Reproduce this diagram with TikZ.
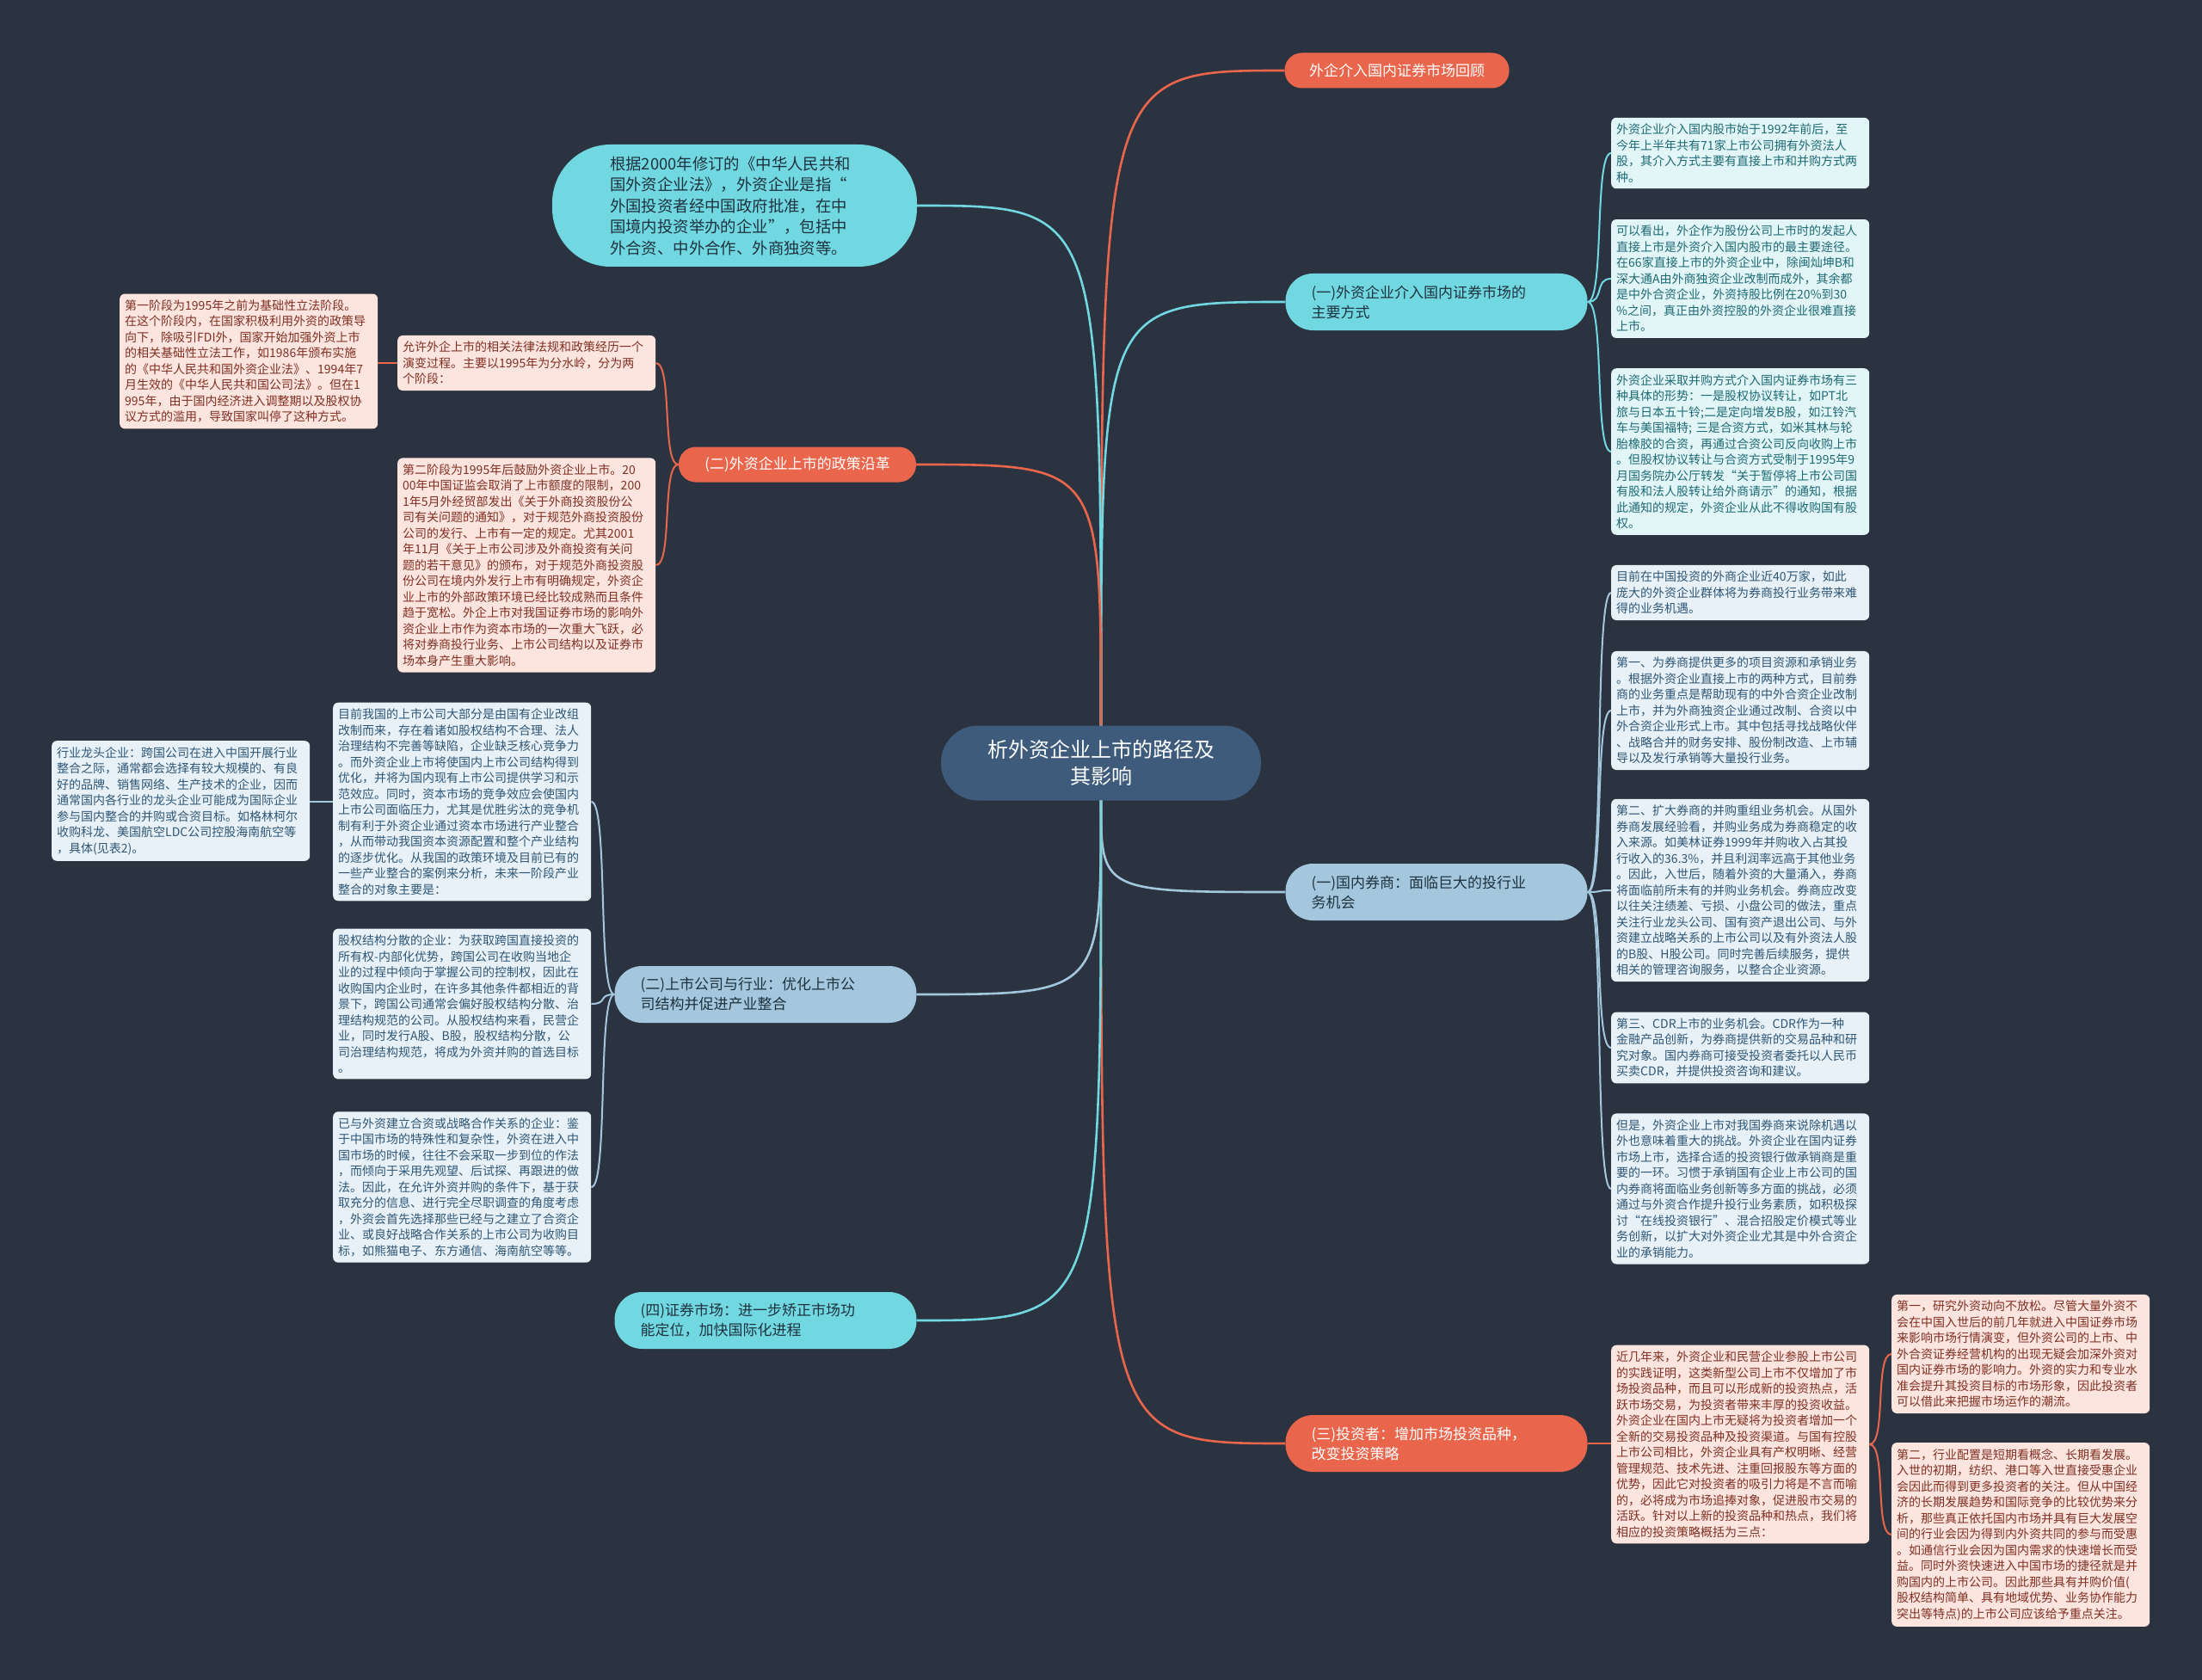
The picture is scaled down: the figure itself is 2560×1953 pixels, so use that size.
\documentclass[tikz,border=0pt]{standalone}
\usepackage{fontspec}
\setmainfont{Noto Sans CJK SC}
\definecolor{bg}{RGB}{43,51,64}
\definecolor{coral}{RGB}{233,102,76}
\definecolor{cyanm}{RGB}{113,216,226}
\definecolor{bluem}{RGB}{164,199,222}
\definecolor{centerc}{RGB}{62,91,123}
\definecolor{pinkf}{RGB}{252,228,223}
\definecolor{pinkt}{RGB}{128,48,34}
\definecolor{cyanf}{RGB}{226,246,248}
\definecolor{cyant}{RGB}{30,105,115}
\definecolor{bluef}{RGB}{232,241,247}
\definecolor{bluet}{RGB}{47,86,118}
\definecolor{darkt}{RGB}{30,50,62}
\tikzset{
  sub/.style={rounded corners=6pt, align=left, text width=288pt, inner xsep=6pt, inner ysep=7pt, font=\fontsize{14}{18.5}\selectfont, anchor=west},
  pinkbox/.style={sub, fill=pinkf, text=pinkt},
  cyanbox/.style={sub, fill=cyanf, text=cyant},
  bluebox/.style={sub, fill=bluef, text=bluet},
  pillone/.style={font=\fontsize{17}{23}\selectfont, inner sep=0pt, minimum height=41pt, rounded corners=20pt, align=center},
  pilltwo/.style={font=\fontsize{17}{23}\selectfont, inner sep=0pt, inner xsep=30pt, minimum height=66pt, rounded corners=32pt, align=left, text width=291pt},
  mainline/.style={line width=2.6pt},
  brline/.style={line width=2pt},
}
\begin{document}
\begin{tikzpicture}[x=1pt,y=-1pt]
\fill[bg] (0,0) rectangle (2560,1953);
\useasboundingbox (0,0) rectangle (2560,1953);

% ---------- main nodes ----------
\node[fill=centerc, text=white, font=\fontsize{24}{31}\selectfont, align=center, minimum width=372pt, minimum height=87pt, rounded corners=43pt, inner sep=0pt] (C) at (1280,887) {析外资企业上市的路径及\\其影响};

\node[pillone, fill=coral, text=white, minimum width=261pt] (m1) at (1624,82) {外企介入国内证券市场回顾};
\node[pilltwo, fill=cyanm, text=darkt] (m2) at (1670,351) {(一)外资企业介入国内证券市场的\\主要方式};
\node[pilltwo, fill=bluem, text=darkt] (m3) at (1670,1037) {(一)国内券商：面临巨大的投行业\\务机会};
\node[pilltwo, fill=coral, text=white] (m4) at (1670,1678) {(三)投资者：增加市场投资品种，\\改变投资策略};

\node[fill=cyanm, text=darkt, font=\fontsize{18.4}{24.5}\selectfont, align=left, text width=290pt, inner xsep=67pt, inner ysep=0pt, minimum height=142pt, rounded corners=68pt] (m5) at (854,239) {根据2000年修订的《中华人民共和\\国外资企业法》，外资企业是指“\\外国投资者经中国政府批准，在中\\国境内投资举办的企业”，包括中\\外合资、中外合作、外商独资等。};
\node[pillone, fill=coral, text=white, minimum width=276pt] (m6) at (927,540) {(二)外资企业上市的政策沿革};
\node[pilltwo, fill=bluem, text=darkt] (m7) at (890,1156) {(二)上市公司与行业：优化上市公\\司结构并促进产业整合};
\node[pilltwo, fill=cyanm, text=darkt] (m8) at (890,1535) {(四)证券市场：进一步矫正市场功\\能定位，加快国际化进程};

% ---------- left pink ----------
\node[pinkbox] (s1) at (139,420) {第一阶段为1995年之前为基础性立法阶段。\\在这个阶段内，在国家积极利用外资的政策导\\向下，除吸引FDI外，国家开始加强外资上市\\的相关基础性立法工作，如1986年颁布实施\\的《中华人民共和国外资企业法》、1994年7\\月生效的《中华人民共和国公司法》。但在1\\995年，由于国内经济进入调整期以及股权协\\议方式的滥用，导致国家叫停了这种方式。};
\node[pinkbox] (p1) at (462,422) {允许外企上市的相关法律法规和政策经历一个\\演变过程。主要以1995年为分水岭，分为两\\个阶段：};
\node[pinkbox] (s2) at (462,657) {第二阶段为1995年后鼓励外资企业上市。20\\00年中国证监会取消了上市额度的限制，200\\1年5月外经贸部发出《关于外商投资股份公\\司有关问题的通知》，对于规范外商投资股份\\公司的发行、上市有一定的规定。尤其2001\\年11月《关于上市公司涉及外商投资有关问\\题的若干意见》的颁布，对于规范外商投资股\\份公司在境内外发行上市有明确规定，外资企\\业上市的外部政策环境已经比较成熟而且条件\\趋于宽松。外企上市对我国证券市场的影响外\\资企业上市作为资本市场的一次重大飞跃，必\\将对券商投行业务、上市公司结构以及证券市\\场本身产生重大影响。};

% ---------- left blue ----------
\node[bluebox] (l1) at (60,931) {行业龙头企业：跨国公司在进入中国开展行业\\整合之际，通常都会选择有较大规模的、有良\\好的品牌、销售网络、生产技术的企业，因而\\通常国内各行业的龙头企业可能成为国际企业\\参与国内整合的并购或合资目标。如格林柯尔\\收购科龙、美国航空LDC公司控股海南航空等\\，具体(见表2)。};
\node[bluebox] (l2) at (387,932) {目前我国的上市公司大部分是由国有企业改组\\改制而来，存在着诸如股权结构不合理、法人\\治理结构不完善等缺陷，企业缺乏核心竞争力\\。而外资企业上市将使国内上市公司结构得到\\优化，并将为国内现有上市公司提供学习和示\\范效应。同时，资本市场的竞争效应会使国内\\上市公司面临压力，尤其是优胜劣汰的竞争机\\制有利于外资企业通过资本市场进行产业整合\\，从而带动我国资本资源配置和整个产业结构\\的逐步优化。从我国的政策环境及目前已有的\\一些产业整合的案例来分析，未来一阶段产业\\整合的对象主要是：};
\node[bluebox] (l3) at (387,1167) {股权结构分散的企业：为获取跨国直接投资的\\所有权-内部化优势，跨国公司在收购当地企\\业的过程中倾向于掌握公司的控制权，因此在\\收购国内企业时，在许多其他条件都相近的背\\景下，跨国公司通常会偏好股权结构分散、治\\理结构规范的公司。从股权结构来看，民营企\\业，同时发行A股、B股，股权结构分散，公\\司治理结构规范，将成为外资并购的首选目标\\。};
\node[bluebox] (l4) at (387,1380) {已与外资建立合资或战略合作关系的企业：鉴\\于中国市场的特殊性和复杂性，外资在进入中\\国市场的时候，往往不会采取一步到位的作法\\，而倾向于采用先观望、后试探、再跟进的做\\法。因此，在允许外资并购的条件下，基于获\\取充分的信息、进行完全尽职调查的角度考虑\\，外资会首先选择那些已经与之建立了合资企\\业、或良好战略合作关系的上市公司为收购目\\标，如熊猫电子、东方通信、海南航空等等。};

% ---------- right cyan ----------
\node[cyanbox] (r1) at (1873,178) {外资企业介入国内股市始于1992年前后，至\\今年上半年共有71家上市公司拥有外资法人\\股，其介入方式主要有直接上市和并购方式两\\种。};
\node[cyanbox] (r2) at (1873,324) {可以看出，外企作为股份公司上市时的发起人\\直接上市是外资介入国内股市的最主要途径。\\在66家直接上市的外资企业中，除闽灿坤B和\\深大通A由外商独资企业改制而成外，其余都\\是中外合资企业，外资持股比例在20\%到30\\\%之间，真正由外资控股的外资企业很难直接\\上市。};
\node[cyanbox] (r3) at (1873,525) {外资企业采取并购方式介入国内证券市场有三\\种具体的形势：一是股权协议转让，如PT北\\旅与日本五十铃;二是定向增发B股，如江铃汽\\车与美国福特;~三是合资方式，如米其林与轮\\胎橡胶的合资，再通过合资公司反向收购上市\\。但股权协议转让与合资方式受制于1995年9\\月国务院办公厅转发“关于暂停将上市公司国\\有股和法人股转让给外商请示”的通知，根据\\此通知的规定，外资企业从此不得收购国有股\\权。};

% ---------- right blue ----------
\node[bluebox] (b1) at (1873,689) {目前在中国投资的外商企业近40万家，如此\\庞大的外资企业群体将为券商投行业务带来难\\得的业务机遇。};
\node[bluebox] (b2) at (1873,826) {第一、为券商提供更多的项目资源和承销业务\\。根据外资企业直接上市的两种方式，目前券\\商的业务重点是帮助现有的中外合资企业改制\\上市，并为外商独资企业通过改制、合资以中\\外合资企业形式上市。其中包括寻找战略伙伴\\、战略合并的财务安排、股份制改造、上市辅\\导以及发行承销等大量投行业务。};
\node[bluebox] (b3) at (1873,1035) {第二、扩大券商的并购重组业务机会。从国外\\券商发展经验看，并购业务成为券商稳定的收\\入来源。如美林证券1999年并购收入占其投\\行收入的36.3\%，并且利润率远高于其他业务\\。因此，入世后，随着外资的大量涌入，券商\\将面临前所未有的并购业务机会。券商应改变\\以往关注绩差、亏损、小盘公司的做法，重点\\关注行业龙头公司、国有资产退出公司、与外\\资建立战略关系的上市公司以及有外资法人股\\的B股、H股公司。同时完善后续服务，提供\\相关的管理咨询服务，以整合企业资源。};
\node[bluebox] (b4) at (1873,1218) {第三、CDR上市的业务机会。CDR作为一种\\金融产品创新，为券商提供新的交易品种和研\\究对象。国内券商可接受投资者委托以人民币\\买卖CDR，并提供投资咨询和建议。};
\node[bluebox] (b5) at (1873,1382) {但是，外资企业上市对我国券商来说除机遇以\\外也意味着重大的挑战。外资企业在国内证券\\市场上市，选择合适的投资银行做承销商是重\\要的一环。习惯于承销国有企业上市公司的国\\内券商将面临业务创新等多方面的挑战，必须\\通过与外资合作提升投行业务素质，如积极探\\讨“在线投资银行”、混合招股定价模式等业\\务创新，以扩大对外资企业尤其是中外合资企\\业的承销能力。};

% ---------- right pink ----------
\node[pinkbox] (k1) at (1873,1679) {近几年来，外资企业和民营企业参股上市公司\\的实践证明，这类新型公司上市不仅增加了市\\场投资品种，而且可以形成新的投资热点，活\\跃市场交易，为投资者带来丰厚的投资收益。\\外资企业在国内上市无疑将为投资者增加一个\\全新的交易投资品种及投资渠道。与国有控股\\上市公司相比，外资企业具有产权明晰、经营\\管理规范、技术先进、注重回报股东等方面的\\优势，因此它对投资者的吸引力将是不言而喻\\的，必将成为市场追捧对象，促进股市交易的\\活跃。针对以上新的投资品种和热点，我们将\\相应的投资策略概括为三点：};
\node[pinkbox] (k2) at (2199,1574) {第一，研究外资动向不放松。尽管大量外资不\\会在中国入世后的前几年就进入中国证券市场\\来影响市场行情演变，但外资公司的上市、中\\外合资证券经营机构的出现无疑会加深外资对\\国内证券市场的影响力。外资的实力和专业水\\准会提升其投资目标的市场形象，因此投资者\\可以借此来把握市场运作的潮流。};
\node[pinkbox] (k3) at (2199,1784) {第二，行业配置是短期看概念、长期看发展。\\入世的初期，纺织、港口等入世直接受惠企业\\会因此而得到更多投资者的关注。但从中国经\\济的长期发展趋势和国际竞争的比较优势来分\\析，那些真正依托国内市场并具有巨大发展空\\间的行业会因为得到内外资共同的参与而受惠\\。如通信行业会因为国内需求的快速增长而受\\益。同时外资快速进入中国市场的捷径就是并\\购国内的上市公司。因此那些具有并购价值(\\股权结构简单、具有地域优势、业务协作能力\\突出等特点)的上市公司应该给予重点关注。};

% ---------- main connectors ----------
\draw[mainline, coral] (C.north) .. controls (C.north |- m1.west) .. (m1.west);
\draw[mainline, cyanm] (C.north) .. controls (C.north |- m2.west) .. (m2.west);
\draw[mainline, bluem] (C.south) .. controls (C.south |- m3.west) .. (m3.west);
\draw[mainline, coral] (C.south) .. controls (C.south |- m4.west) .. (m4.west);
\draw[mainline, cyanm] (C.north) .. controls (C.north |- m5.east) .. (m5.east);
\draw[mainline, coral] (C.north) .. controls (C.north |- m6.east) .. (m6.east);
\draw[mainline, bluem] (C.south) .. controls (C.south |- m7.east) .. (m7.east);
\draw[mainline, cyanm] (C.south) .. controls (C.south |- m8.east) .. (m8.east);

% ---------- branch connectors ----------
\draw[brline, coral] (m6.west) .. controls +(-20,0) and +(20,0) .. (p1.east);
\draw[brline, coral] (m6.west) .. controls +(-20,0) and +(20,0) .. (s2.east);
\draw[brline, coral] (p1.west) -- (p1.west -| s1.east);

\draw[brline, bluem] (m7.west) .. controls +(-20,0) and +(20,0) .. (l2.east);
\draw[brline, bluem] (m7.west) .. controls +(-20,0) and +(20,0) .. (l3.east);
\draw[brline, bluem] (m7.west) .. controls +(-20,0) and +(20,0) .. (l4.east);
\draw[brline, bluem] (l2.west) -- (l2.west -| l1.east);

\draw[brline, cyanm] (m2.east) .. controls +(20,0) and +(-20,0) .. (r1.west);
\draw[brline, cyanm] (m2.east) .. controls +(20,0) and +(-20,0) .. (r2.west);
\draw[brline, cyanm] (m2.east) .. controls +(20,0) and +(-20,0) .. (r3.west);

\draw[brline, bluem] (m3.east) .. controls +(20,0) and +(-20,0) .. (b1.west);
\draw[brline, bluem] (m3.east) .. controls +(20,0) and +(-20,0) .. (b2.west);
\draw[brline, bluem] (m3.east) .. controls +(20,0) and +(-20,0) .. (b3.west);
\draw[brline, bluem] (m3.east) .. controls +(20,0) and +(-20,0) .. (b4.west);
\draw[brline, bluem] (m3.east) .. controls +(20,0) and +(-20,0) .. (b5.west);

\draw[brline, coral] (m4.east) -- (m4.east -| k1.west);
\draw[brline, coral] (k1.east) .. controls +(20,0) and +(-20,0) .. (k2.west);
\draw[brline, coral] (k1.east) .. controls +(20,0) and +(-20,0) .. (k3.west);
\end{tikzpicture}
\end{document}
